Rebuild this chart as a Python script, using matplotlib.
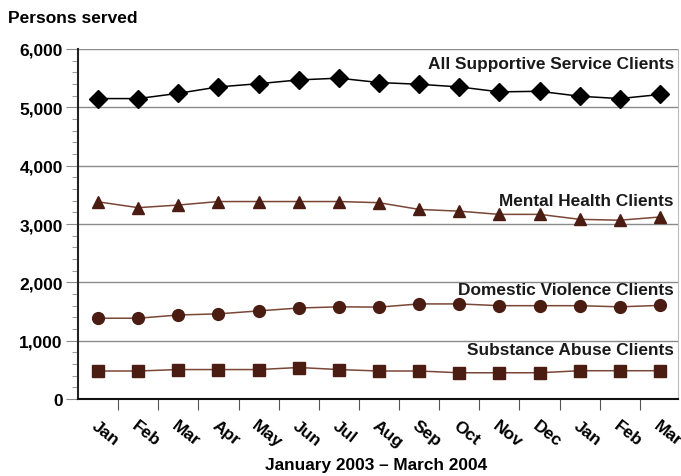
import matplotlib.pyplot as plt
from matplotlib.ticker import MultipleLocator, FuncFormatter

plt.rcParams['font.family'] = ['Liberation Sans', 'DejaVu Sans']
plt.rcParams['font.weight'] = 'bold'

# month labels, Jan 2003 - Mar 2004
months = ['Jan', 'Feb', 'Mar', 'Apr', 'May', 'Jun', 'Jul', 'Aug', 'Sep',
          'Oct', 'Nov', 'Dec', 'Jan', 'Feb', 'Mar']

all_supportive = [5150, 5150, 5240, 5350, 5405, 5470, 5500, 5425, 5395,
                  5350, 5265, 5275, 5190, 5150, 5220]
mental_health = [3380, 3280, 3325, 3385, 3385, 3385, 3385, 3365, 3250,
                 3220, 3165, 3165, 3080, 3065, 3120]
domestic_violence = [1385, 1385, 1440, 1460, 1510, 1560, 1580, 1575, 1630,
                     1630, 1600, 1600, 1600, 1580, 1605]
substance_abuse = [480, 480, 505, 505, 505, 540, 505, 480, 480,
                   450, 450, 450, 485, 485, 485]

series_labels = ['All Supportive Service Clients', 'Mental Health Clients',
                 'Domestic Violence Clients', 'Substance Abuse Clients']

BROWN = '#4a1c12'
LINE_BROWN = '#7a4636'


def plot_lines(ax):
    x = range(len(months))
    ax.plot(x, all_supportive, color='black', lw=1.1, marker='D',
            markersize=9, zorder=3)
    ax.plot(x, mental_health, color=LINE_BROWN, lw=1.1, marker='^',
            markersize=8.5, markerfacecolor=BROWN, markeredgecolor=BROWN,
            zorder=3)
    ax.plot(x, domestic_violence, color=LINE_BROWN, lw=1.1, marker='o',
            markersize=8.5, markerfacecolor=BROWN, markeredgecolor=BROWN,
            zorder=3)
    ax.plot(x, substance_abuse, color=LINE_BROWN, lw=1.1, marker='s',
            markersize=8, markerfacecolor=BROWN, markeredgecolor=BROWN,
            zorder=3)

    # series names, right aligned above each line
    label_y = [5750, 3400, 1880, 850]
    for name, yv in zip(series_labels, label_y):
        ax.text(14.35, yv, name, ha='right', va='center', fontsize=12.4,
                fontweight='bold', color='#1a1a1a')


def configure_plot(fig, ax):
    ax.set_xlim(-0.5, 14.45)
    ax.set_ylim(0, 6000)
    ax.yaxis.set_major_locator(MultipleLocator(1000))
    ax.yaxis.set_minor_locator(MultipleLocator(200))
    ax.yaxis.set_major_formatter(FuncFormatter(lambda v, p: f'{int(v):,}'))
    ax.grid(axis='y', color='#8a8a8a', lw=1.0)
    ax.set_axisbelow(True)

    ax.set_xticks([i + 0.5 for i in range(len(months) - 1)])
    ax.set_xticklabels([])
    ax.set_xticks(range(len(months)), minor=True)
    ax.set_xticklabels(months, minor=True, rotation=-38, ha='left',
                       va='top', rotation_mode='anchor', fontsize=12.5,
                       fontweight='bold')
    ax.tick_params(axis='x', which='major', length=8, color='#555555')
    ax.tick_params(axis='x', which='minor', length=0, pad=13)
    ax.tick_params(axis='y', which='major', length=9, color='#8a8a8a',
                   labelsize=12.5, pad=2)
    ax.tick_params(axis='y', which='minor', length=4, color='#8a8a8a')

    ax.spines['top'].set_visible(False)
    ax.spines['right'].set_color('#bbbbbb')
    ax.spines['left'].set_color('#222222')
    ax.spines['left'].set_linewidth(1.5)
    ax.spines['bottom'].set_color('#111111')
    ax.spines['bottom'].set_linewidth(1.5)

    fig.text(0.012, 0.962, 'Persons served', ha='left', va='center',
             fontsize=12.5, fontweight='bold')
    fig.text(0.552, 0.025, 'January 2003 \u2013 March 2004', ha='center',
             va='center', fontsize=12.4, fontweight='bold')


def start():
    fig = plt.figure(figsize=(6.81, 4.77), dpi=100)
    ax = fig.add_axes([0.1145, 0.1614, 0.8811, 0.7338])
    plot_lines(ax)
    configure_plot(fig, ax)
    fig.savefig('out.png', dpi=100)


if __name__ == '__main__':
    start()
